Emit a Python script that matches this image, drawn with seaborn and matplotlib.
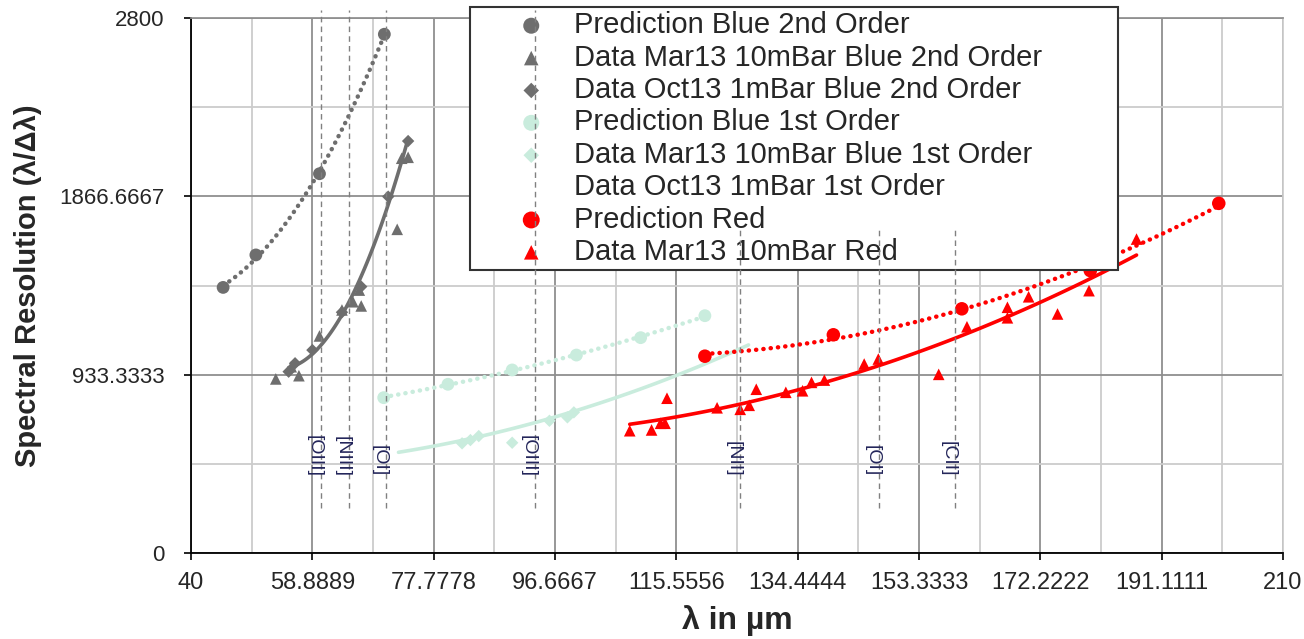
import numpy as np
import matplotlib
matplotlib.use("Agg")
import matplotlib.pyplot as plt
from matplotlib.lines import Line2D
from matplotlib.ticker import FixedLocator
from matplotlib.transforms import offset_copy
import seaborn as sns

# ---- data -------------------------------------------------------------
# Blue channel, 2nd order
pred_blue2_x = [45.0, 50.1, 60.0, 70.1]
pred_blue2_y = [1390, 1560, 1985, 2715]

mar13_blue2_x = [53.2, 55.6, 56.8, 60.0, 63.5, 65.2, 66.5, 66.2, 72.1, 72.8, 73.8]
mar13_blue2_y = [911, 975, 928, 1136, 1272, 1315, 1293, 1376, 1694, 2066, 2071]

oct13_blue2_x = [55.2, 56.2, 58.9, 63.5, 66.5, 70.7, 73.8]
oct13_blue2_y = [949, 993, 1062, 1260, 1394, 1865, 2156]

# Blue channel, 1st order
pred_blue1_x = [70, 80, 90, 100, 110, 120]
pred_blue1_y = [813, 883, 958, 1036, 1127, 1242]

mar13_blue1_x = [82.2, 83.5, 84.8, 90.0, 95.8, 98.6, 99.6]
mar13_blue1_y = [574, 591, 612, 577, 692, 710, 736]

oct13_blue1_x = [72.3, 104.3, 126.8]
oct13_blue1_y = [527, 792, 1089]

# Red channel
pred_red_x = [120, 140, 160, 180, 200]
pred_red_y = [1030, 1142, 1278, 1478, 1830]

mar13_red_x = [108.3, 111.7, 113.1, 113.8, 114.1, 121.9, 125.5, 126.9, 128.0, 132.6,
               135.2, 136.6, 138.6, 144.8, 147.0, 156.4, 160.8, 167.1, 167.1, 170.4,
               174.9, 179.8, 187.2]
mar13_red_y = [640, 644, 679, 679, 810, 760, 752, 773, 857, 841,
               849, 893, 905, 989, 1015, 935, 1184, 1231, 1286, 1341,
               1251, 1373, 1643]

# Fine-structure lines marked on the wavelength axis
line_names = ["[OIII]", "[NIII]", "[OI]", "[OIII]", "[NII]", "[OI]", "[CII]"]
line_wavelengths = [60.3, 64.6, 70.3, 93.5, 125.5, 147.1, 158.9]
line_tops = [2840, 2840, 2840, 2840, 1700, 1700, 1700]
line_bottom = 235

x_tick_labels = ["40", "58.8889", "77.7778", "96.6667", "115.5556",
                 "134.4444", "153.3333", "172.2222", "191.1111", "210"]
y_tick_labels = ["0", "933.3333", "1866.6667", "2800"]

legend_labels = ["Prediction Blue 2nd Order",
                 "Data Mar13 10mBar Blue 2nd Order",
                 "Data Oct13 1mBar Blue 2nd Order",
                 "Prediction Blue 1st Order",
                 "Data Mar13 10mBar Blue 1st Order",
                 "Data Oct13 1mBar 1st Order",
                 "Prediction Red",
                 "Data Mar13 10mBar Red"]

# ---- style ------------------------------------------------------------
GRAY = "#6e6e6e"
MINT = "#c9ecdd"
RED = "#ff0000"

sns.set_theme(style="white")
plt.rcParams["font.family"] = ["Liberation Sans", "DejaVu Sans"]

fig = plt.figure(figsize=(13.04, 6.39), dpi=100)
ax = fig.add_axes([191 / 1304, 1 - 553 / 639, 1092 / 1304, 535 / 639])
ax.set_xlim(40, 210)
ax.set_ylim(0, 2800)

dot = dict(lw=3.2, ls=(0, (0.05, 1.6)), dash_capstyle="round")
solid = dict(lw=2.6, ls="-")

# trend lines
sns.regplot(x=pred_blue2_x, y=pred_blue2_y, order=2, ci=None, scatter=False, ax=ax,
            line_kws=dict(color=GRAY, zorder=2, **dot))
sns.regplot(x=oct13_blue2_x, y=oct13_blue2_y, order=2, ci=None, scatter=False, ax=ax,
            line_kws=dict(color=GRAY, zorder=2, **solid))
sns.regplot(x=pred_blue1_x, y=pred_blue1_y, order=2, ci=None, scatter=False, ax=ax,
            line_kws=dict(color=MINT, zorder=2, **dot))
sns.regplot(x=oct13_blue1_x, y=oct13_blue1_y, order=2, ci=None, scatter=False, ax=ax,
            line_kws=dict(color=MINT, zorder=2, **solid))
sns.regplot(x=pred_red_x, y=pred_red_y, order=2, ci=None, scatter=False, ax=ax,
            line_kws=dict(color=RED, zorder=2, **dot))
sns.regplot(x=mar13_red_x, y=mar13_red_y, order=2, ci=None, scatter=False, ax=ax,
            line_kws=dict(color=RED, zorder=2, **solid))

# markers
def pts(x, y, marker, color, size):
    sns.scatterplot(x=x, y=y, marker=marker, color=color, s=size,
                    edgecolor="none", linewidth=0, ax=ax, zorder=3, legend=False)
    return ax.collections[-1]

h = [
    pts(pred_blue2_x, pred_blue2_y, "o", GRAY, 85),
    pts(mar13_blue2_x, mar13_blue2_y, "^", GRAY, 70),
    pts(oct13_blue2_x, oct13_blue2_y, "D", GRAY, 40),
    pts(pred_blue1_x, pred_blue1_y, "o", MINT, 85),
    pts(mar13_blue1_x, mar13_blue1_y, "D", MINT, 40),
    Line2D([], [], ls="none", marker="none"),
    pts(pred_red_x, pred_red_y, "o", RED, 95),
    pts(mar13_red_x, mar13_red_y, "^", RED, 70),
]

# emission line markers
ax.vlines(line_wavelengths, line_bottom, line_tops, colors="#808080",
          linestyles=(0, (4, 3)), linewidth=1.0, zorder=6, clip_on=False)
tr = offset_copy(ax.transData, fig=fig, x=-7, y=0, units="dots")
for name, wl in zip(line_names, line_wavelengths):
    ax.text(wl, 400, name, rotation=-90, ha="center", va="bottom",
            fontsize=14, color="#23255a", transform=tr, zorder=6)

# grid and ticks
ax.xaxis.set_major_locator(FixedLocator(np.linspace(40, 210, 10)))
ax.xaxis.set_minor_locator(FixedLocator(np.linspace(40, 210, 19)))
ax.yaxis.set_major_locator(FixedLocator(np.linspace(0, 2800, 4)))
ax.yaxis.set_minor_locator(FixedLocator(np.linspace(0, 2800, 7)))
ax.set_xticklabels(x_tick_labels, fontsize=17)
ax.set_yticklabels(y_tick_labels, fontsize=16)
ax.grid(which="minor", color="#cccccc", lw=1.3)
ax.grid(which="major", color="#8f8f8f", lw=1.3)
ax.set_axisbelow(True)
ax.tick_params(which="major", direction="out", length=5, width=1.2, color="black",
               bottom=True, left=True, top=False, right=False)
ax.tick_params(axis="y", pad=14)
ax.tick_params(axis="x", pad=9)
ax.tick_params(which="minor", length=0)
for s in ("left", "bottom"):
    ax.spines[s].set_color("black")
    ax.spines[s].set_linewidth(1.3)
ax.spines["top"].set_color("#8f8f8f")
ax.spines["right"].set_color("#cccccc")

ax.set_xlabel("λ in µm", fontsize=23, fontweight="bold")
ax.set_ylabel("Spectral Resolution (λ/Δλ)", fontsize=21, fontweight="bold")
ax.xaxis.set_label_coords(0.5, -0.098)
ax.yaxis.set_label_coords(-0.136, 0.5)

leg = ax.legend(h, legend_labels, loc="upper left", mode="expand",
                bbox_to_anchor=(279 / 1092, 0, 648 / 1092, 546 / 535),
                borderaxespad=0, fontsize=21, frameon=True, fancybox=False,
                framealpha=1, edgecolor="#333333", borderpad=0.15,
                handlelength=3.9, handletextpad=-0.5, labelspacing=0.15,
                markerscale=1.25)
leg.get_frame().set_linewidth(1.5)
leg.set_zorder(5)

fig.savefig("out.png", dpi=100)
